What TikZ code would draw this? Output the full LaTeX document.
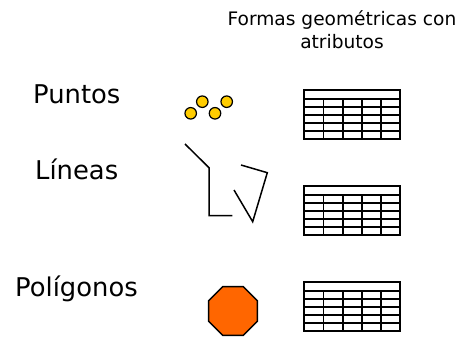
\documentclass[tikz,border=0pt]{standalone}
\usepackage{fontspec}
\setmainfont{DejaVu Sans}
\usetikzlibrary{shapes.geometric}
\definecolor{ptfill}{HTML}{FFCC00}
\definecolor{polyfill}{HTML}{FF6600}
\tikzset{
  lbl/.style={anchor=base west, inner sep=0pt, font=\fontsize{25.8}{30}\selectfont},
  ttl/.style={anchor=base, inner sep=0pt, font=\fontsize{18.6}{22}\selectfont},
  pt/.style={circle, draw=black, line width=1.2pt, fill=ptfill, minimum size=11.5pt, inner sep=0pt},
  lineobj/.style={draw=black, line width=1.5pt},
  tabline/.style={draw=black, line width=1.7pt},
  attrtable/.pic={
    \draw[tabline] (0,0) rectangle (96,49);
    \draw[tabline] (0,9) -- (96,9);
    \foreach \r in {17,25,33,41} {\draw[tabline] (0,\r) -- (96,\r);}
    \foreach \c in {19.5,38.8,58,77.2} {\draw[tabline] (\c,9) -- (\c,49);}
  }
}
\begin{document}
\begin{tikzpicture}[x=1pt,y=-1pt]
\useasboundingbox (0,0) rectangle (472,337);
% title
\node[ttl] (t1) at (342,25.5) {Formas geométricas con};
\node[ttl] (t2) at (342,48.3) {atributos};
% labels
\node[lbl] (lp) at (33,103.5) {Puntos};
\node[lbl] (ll) at (35,179.3) {Líneas};
\node[lbl] (lg) at (15,296.7) {Polígonos};
% points
\node[pt] (p1) at (190.7,113.3) {};
\node[pt] (p2) at (202.3,101.7) {};
\node[pt] (p3) at (215,113.3) {};
\node[pt] (p4) at (226.7,101.7) {};
% lines
\coordinate (a1) at (185,144);
\coordinate (a2) at (209,167.7);
\coordinate (a3) at (209,215.7);
\coordinate (a4) at (232.3,215.7);
\draw[lineobj] (a1) -- (a2) -- (a3) -- (a4);
\coordinate (b1) at (241,165);
\coordinate (b2) at (267.3,172.7);
\coordinate (b3) at (252.7,221.7);
\coordinate (b4) at (234,190);
\draw[lineobj] (b1) -- (b2) -- (b3) -- (b4);
% polygon
\node[regular polygon, regular polygon sides=8, minimum size=53pt, inner sep=0pt, draw=black, line width=1.5pt, fill=polyfill] (oct) at (233,311) {};
% tables
\pic (tab1) at (304,90) {attrtable};
\pic (tab2) at (304,186) {attrtable};
\pic (tab3) at (304,282) {attrtable};
\end{tikzpicture}
\end{document}
